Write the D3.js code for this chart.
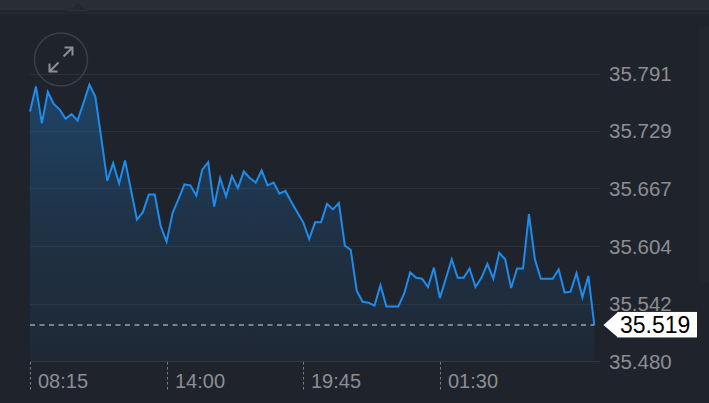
<!DOCTYPE html>
<html>
<head>
<meta charset="utf-8">
<script src="https://cdn.jsdelivr.net/npm/d3@7"></script>
<style>
  html, body { margin: 0; padding: 0; background: #1f232b; }
  svg { display: block; }
  text { font-family: "Liberation Sans", Arial, Helvetica, sans-serif; }
</style>
</head>
<body>
<svg id="chart" width="709" height="403"></svg>
<script>
// ---- data ----
const startTime = "2024-01-01T08:15:00";
const intervalMinutes = 15;
const prices = [
  35.750, 35.777, 35.737, 35.771, 35.758, 35.752, 35.742, 35.747, 35.740, 35.759,
  35.779, 35.766, 35.721, 35.675, 35.694, 35.672, 35.697, 35.665, 35.633, 35.641,
  35.660, 35.660, 35.626, 35.609, 35.640, 35.655, 35.671, 35.670, 35.659, 35.687,
  35.695, 35.647, 35.678, 35.658, 35.680, 35.667, 35.685, 35.678, 35.673, 35.686,
  35.670, 35.673, 35.661, 35.664, 35.652, 35.641, 35.630, 35.612, 35.630, 35.630,
  35.650, 35.644, 35.651, 35.605, 35.600, 35.556, 35.544, 35.543, 35.540, 35.562,
  35.539, 35.539, 35.539, 35.553, 35.576, 35.570, 35.569, 35.560, 35.581, 35.548,
  35.569, 35.590, 35.570, 35.570, 35.580, 35.560, 35.570, 35.585, 35.569, 35.597,
  35.590, 35.559, 35.580, 35.580, 35.639, 35.590, 35.569, 35.569, 35.569, 35.579,
  35.554, 35.555, 35.575, 35.549, 35.572, 35.519
];
const yTickValues = [35.480, 35.542, 35.604, 35.667, 35.729, 35.791];
const yTickLabels = ["35.480", "35.542", "35.604", "35.667", "35.729", "35.791"];
const xTickTimes = ["2024-01-01T08:15:00", "2024-01-01T14:00:00", "2024-01-01T19:45:00", "2024-01-02T01:30:00"];
const xTickLabels = ["08:15", "14:00", "19:45", "01:30"];
const currentPrice = 35.519;
const currentLabel = "35.519";

// ---- build ----
const t0 = new Date(startTime);
const data = prices.map((v, i) => ({ t: new Date(t0.getTime() + i * intervalMinutes * 60000), v }));

const svg = d3.select("#chart");
const W = 709, H = 403;
const x = d3.scaleTime().domain([data[0].t, data[data.length - 1].t]).range([30, 594.3]);
const y = d3.scaleLinear().domain([35.480, 35.791]).range([361, 73.5]);

// background
svg.append("rect").attr("width", W).attr("height", H).attr("fill", "#1f232b");
svg.append("rect").attr("width", W).attr("height", 10).attr("fill", "#292d35");
svg.append("rect").attr("y", 10).attr("width", W).attr("height", 4).attr("fill", "#23272f");
svg.append("path").attr("d", "M69,10.5 L78,1.5 L87,10.5 Z").attr("fill", "#23272f").attr("stroke", "#2f333b").attr("stroke-width", 1);
svg.append("rect").attr("x", 699).attr("y", 27).attr("width", 10).attr("height", 256).attr("fill", "#22262e");

// gradient
const defs = svg.append("defs");
const grad = defs.append("linearGradient").attr("id", "areaGrad")
  .attr("gradientUnits", "userSpaceOnUse").attr("x1", 0).attr("x2", 0)
  .attr("y1", y(35.791)).attr("y2", y(35.480));
grad.append("stop").attr("offset", "0%").attr("stop-color", "#1e88e5").attr("stop-opacity", 0.34);
grad.append("stop").attr("offset", "55%").attr("stop-color", "#1e88e5").attr("stop-opacity", 0.14);
grad.append("stop").attr("offset", "100%").attr("stop-color", "#1e88e5").attr("stop-opacity", 0.05);

// grid lines
svg.append("g").selectAll("line").data(yTickValues).join("line")
  .attr("x1", 30).attr("x2", 600)
  .attr("y1", d => Math.round(y(d)) + 0.5).attr("y2", d => Math.round(y(d)) + 0.5)
  .attr("stroke", (d, i) => i === 0 ? "#343841" : "#2c3038").attr("stroke-width", 1);

// area + line
const area = d3.area().x(d => x(d.t)).y0(y(35.480)).y1(d => y(d.v));
svg.append("path").datum(data).attr("d", area).attr("fill", "url(#areaGrad)");
const line = d3.line().x(d => x(d.t)).y(d => y(d.v));
svg.append("path").datum(data).attr("d", line).attr("fill", "none")
  .attr("stroke", "#1f8ceb").attr("stroke-width", 2).attr("stroke-linejoin", "miter");

// current price dashed line
svg.append("line").attr("x1", 30).attr("x2", x(data[data.length - 1].t))
  .attr("y1", y(currentPrice)).attr("y2", y(currentPrice))
  .attr("stroke", "#9c9fa4").attr("stroke-width", 1.5).attr("stroke-dasharray", "5,4.5");

// y labels
svg.append("g").selectAll("text").data(yTickValues).join("text")
  .attr("x", 609).attr("y", d => y(d) + 7.5)
  .attr("fill", "#8b8e93").attr("font-size", "20.5px")
  .text((d, i) => yTickLabels[i]);

// x ticks
const xg = svg.append("g");
xTickTimes.forEach((ts, i) => {
  const xx = Math.round(x(new Date(ts))) + 0.5;
  xg.append("line").attr("x1", xx).attr("x2", xx).attr("y1", 362).attr("y2", 392)
    .attr("stroke", "#7a7d82").attr("stroke-width", 1).attr("stroke-dasharray", "2.5,2.5");
  xg.append("text").attr("x", xx + 7.5).attr("y", 387.5)
    .attr("fill", "#8b8e93").attr("font-size", "20px").text(xTickLabels[i]);
});

// current price tag
const cy = y(currentPrice);
svg.append("path").attr("d", `M603.5,${cy} L618,${cy - 13} L618,${cy + 12.5} Z`).attr("fill", "#ffffff");
svg.append("rect").attr("x", 617.5).attr("y", cy - 13).attr("width", 79.5).attr("height", 25.5).attr("fill", "#ffffff");
svg.append("text").attr("x", 620).attr("y", cy + 8.5).attr("fill", "#000000")
  .attr("font-size", "23px").text(currentLabel);

// expand button
const btn = svg.append("g");
btn.append("circle").attr("cx", 61).attr("cy", 59.5).attr("r", 26.5)
  .attr("fill", "none").attr("stroke", "#3b3f47").attr("stroke-width", 1.5);
const ic = "#8d8f93";
btn.append("path").attr("d", "M63.5,56.5 L73,47 M64.5,47.5 L72.5,47.5 L72.5,55.5")
  .attr("fill", "none").attr("stroke", ic).attr("stroke-width", 2);
btn.append("path").attr("d", "M58.5,62.5 L49,72 M49.5,63.5 L49.5,71.5 L57.5,71.5")
  .attr("fill", "none").attr("stroke", ic).attr("stroke-width", 2);
</script>
</body>
</html>
